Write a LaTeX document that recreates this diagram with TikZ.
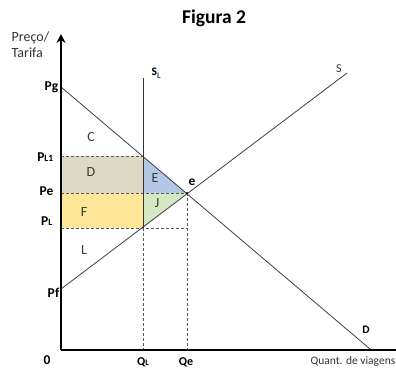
\documentclass[tikz,border=0pt]{standalone}
\usepackage{fontspec}
\setmainfont{Carlito}
\usetikzlibrary{arrows.meta}
\definecolor{regD}{HTML}{DDD9C4}
\definecolor{regF}{HTML}{FFE699}
\definecolor{regE}{HTML}{B4C7E7}
\definecolor{regJ}{HTML}{D5E8C4}
\definecolor{lbl}{HTML}{3A3A3A}
\definecolor{sublbl}{HTML}{1F4E79}
\begin{document}
\begin{tikzpicture}[x=1pt,y=-1pt,
  axis/.style={line width=2.6pt},
  curve/.style={line width=0.8pt,draw=black!75},
  guide/.style={line width=0.6pt,draw=black!65,dash pattern=on 3pt off 2pt},
  reglbl/.style={font=\fontsize{14}{15}\selectfont,text=lbl},
  axlbl/.style={font=\bfseries\fontsize{13.5}{15}\selectfont,inner sep=0.5pt},
  txt/.style={font=\fontsize{14}{16}\selectfont,text=black!80,inner sep=0.5pt}]
\useasboundingbox (0,0) rectangle (396,367);
% key points
\coordinate (O) at (61,350);
\coordinate (Pg) at (61,87);
\coordinate (Dend) at (370,349);
\coordinate (Pf) at (61,289);
\coordinate (Send) at (347,73);
\coordinate (e) at (187,193);
\coordinate (A) at (143,156);
\coordinate (B) at (143,193);
\coordinate (Cc) at (143,228);
\coordinate (yL1) at (61,156);
\coordinate (ye) at (61,193);
\coordinate (yL) at (61,228);
\coordinate (QL) at (143,350);
\coordinate (Qe) at (187,350);
\coordinate (SLtop) at (143,78);
\coordinate (ytop) at (61,34);
\coordinate (xend) at (396,350);
% regions
\fill[regD] (yL1) rectangle (B);
\fill[regF] (ye) rectangle (Cc);
\fill[regE] (A) -- (e) -- (B) -- cycle;
\fill[regJ] (B) -- (e) -- (Cc) -- cycle;
% guides
\draw[guide] (yL1) -- (A);
\draw[guide] (ye) -- (e);
\draw[guide] (yL) -- (Cc) -- (Cc -| e);
\draw[guide] (e) -- (Qe);
\draw[guide] (Cc) -- (QL);
% curves
\draw[curve] (Pg) -- (Dend);
\draw[curve] (Pf) -- (Send);
\draw[curve,draw=black!80,line width=1pt] (SLtop) -- (Cc);
\fill (e) circle (1.2pt);
% axes
\draw[axis,-{Stealth[length=9pt,width=9pt]}] (O) -- (ytop);
\draw[axis] (O) -- (xend);
% labels
\node[font=\bfseries\fontsize{19.5}{22}\selectfont] (title) at (214,18) {Figura 2};
\node[txt,align=left,anchor=west] (yl) at (11,45) {Preço/\\Tarifa};
\node[txt,anchor=east,font=\fontsize{11.5}{12}\selectfont] (xl) at (396,361) {Quant. de viagens};
\node[axlbl,anchor=east] (lPg) at (59,87) {Pg};
\node[axlbl,anchor=east] (lPL1) at (54,157) {P{\fontsize{9.5}{10}\selectfont L1}};
\node[axlbl,anchor=east] (lPe) at (54,191) {Pe};
\node[axlbl,anchor=east] (lPL) at (53,221) {P{\fontsize{9.5}{10}\selectfont L}};
\node[axlbl,anchor=east] (lPf) at (60,293) {Pf};
\node[axlbl] (l0) at (47,360) {0};
\node[axlbl,font=\bfseries\fontsize{12}{13}\selectfont] (lQL) at (143,362) {Q{\fontsize{8.5}{9}\selectfont L}};
\node[axlbl,font=\bfseries\fontsize{12}{13}\selectfont] (lQe) at (186,362) {Qe};
\node[axlbl] (le) at (192,182) {e};
\node[axlbl,anchor=west,font=\bfseries\fontsize{11.5}{12}\selectfont] (lSL) at (151,73) {S\raisebox{-2.5pt}{\textcolor{sublbl}{\fontsize{8.5}{9}\selectfont L}}};
\node[txt,font=\fontsize{12}{13}\selectfont] (lS) at (339,69) {S};
\node[axlbl,font=\bfseries\fontsize{11.5}{12}\selectfont] (lD) at (366,330) {D};
\node[reglbl] (rC) at (91,137) {C};
\node[reglbl] (rD) at (91,172) {D};
\node[reglbl] (rE) at (155,178) {E};
\node[reglbl] (rJ) at (157,203) {J};
\node[reglbl] (rF) at (84,212) {F};
\node[reglbl] (rL) at (84,250) {L};
\end{tikzpicture}
\end{document}
